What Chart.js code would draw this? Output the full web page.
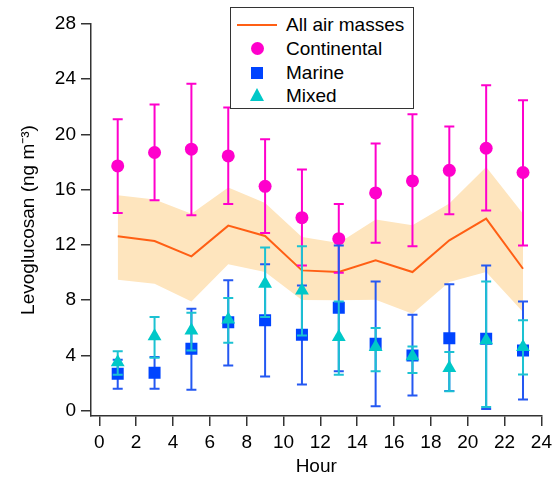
<!DOCTYPE html>
<html>
<head>
<meta charset="utf-8">
<script src="https://cdn.jsdelivr.net/npm/chart.js@4"></script>
<style>
  body { margin: 0; background: #fff; font-family: 'Liberation Sans', Arial, sans-serif; }
  #wrap { position: relative; width: 557px; height: 478px; }
  #legenda { position: absolute; left: 230px; top: 7px; width: 184px; height: 102px; border: 1.5px solid #333; background: #fff; box-sizing: border-box; }
  .polozka { position: absolute; left: 0; height: 24px; line-height: 24px; font-size: 19px; color: #000; width: 100%; }
  .polozka span.txt { position: absolute; left: 55px; }
  .znacka { position: absolute; }
</style>
</head>
<body>
<div id="wrap">
  <canvas id="graf" width="557" height="478"></canvas>
  <div id="legenda"></div>
</div>
<script>
// --- DATA ---
const hodiny = [1, 3, 5, 7, 9, 11, 13, 15, 17, 19, 21, 23];

const vseStred = [12.62, 12.28, 11.17, 13.39, 12.64, 10.15, 10.03, 10.88, 10.03, 12.33, 13.9, 10.27];
const vseHorni = [15.59, 15.28, 14.26, 16.15, 15.03, 12.57, 12.13, 13.83, 13.42, 14.99, 17.64, 14.26];
const vseDolni = [9.48, 9.19, 7.90, 10.59, 10.03, 8.0, 7.98, 8.03, 7.01, 9.31, 10.03, 7.13];

const kontinent = [17.72, 18.69, 18.93, 18.44, 16.24, 13.97, 12.45, 15.76, 16.63, 17.40, 19.0, 17.24];
const kontinentHi = [21.1, 22.17, 23.68, 21.95, 19.65, 17.45, 14.96, 19.34, 21.46, 20.57, 23.57, 22.48];
const kontinentLo = [14.3, 15.23, 14.14, 14.96, 12.86, 10.51, 9.98, 12.16, 11.89, 14.21, 14.48, 11.96];

const more = [2.66, 2.73, 4.47, 6.40, 6.53, 5.49, 7.45, 4.83, 3.99, 5.24, 5.2, 4.35];
const moreHi = [3.67, 3.87, 7.37, 9.43, 10.59, 9.06, 11.96, 9.35, 6.94, 9.14, 10.51, 7.9];
const moreLo = [1.57, 1.57, 1.50, 3.26, 2.47, 1.89, 2.85, 0.3, 1.09, 1.42, 0.1, 0.80];

const smisene = [3.50, 5.37, 5.8, 6.6, 9.19, 8.7, 5.32, 4.6, 3.92, 3.07, 5.08, 4.59];
const smiseneHi = [4.30, 6.77, 7.08, 8.14, 11.8, 11.89, 7.9, 5.97, 4.64, 4.23, 9.35, 6.53];
const smiseneLo = [2.58, 3.82, 4.35, 4.91, 6.77, 5.44, 2.59, 2.85, 2.71, 1.40, 0.25, 2.61];

const xTicky = [0, 2, 4, 6, 8, 10, 12, 14, 16, 18, 20, 22, 24];
const yTicky = [0, 4, 8, 12, 16, 20, 24, 28];

const nazvy = ['All air masses', 'Continental', 'Marine', 'Mixed'];

// --- BARVY ---
const oranzova = '#FF5F14';
const pasmo = '#FEE5BE';
const magenta = '#FF00CC';
const modra = '#0044FF';
const modraChyba = '#2458F2';
const tyrkys = '#00C8C8';
const tyrkysChyba = '#1CC2D2';

const pismo = { family: "'Liberation Sans', Arial, sans-serif", size: 19 };

function body(hodnoty) { return hodiny.map((h, i) => ({ x: h, y: hodnoty[i] })); }

// error bary - kresleni pres skaly grafu
const chybovePlugin = {
    id: 'chyby',
    beforeDatasetDraw(chart, args) {
        const ds = chart.data.datasets[args.index];
        if (!ds.chybaHi) return;
        const sx = chart.scales.x, sy = chart.scales.y, ctx = chart.ctx;
        ctx.save();
        ctx.strokeStyle = ds.chybaBarva;
        ctx.lineWidth = 2;
        ds.data.forEach((p, i) => {
            const px = sx.getPixelForValue(p.x);
            const hore = sy.getPixelForValue(ds.chybaHi[i]);
            const dole = sy.getPixelForValue(ds.chybaLo[i]);
            ctx.beginPath();
            ctx.moveTo(px, hore); ctx.lineTo(px, dole);
            ctx.moveTo(px - 5, hore); ctx.lineTo(px + 5, hore);
            ctx.moveTo(px - 5, dole); ctx.lineTo(px + 5, dole);
            ctx.stroke();
        });
        ctx.restore();
    }
};

function osa(min, max, ticky, titulek) {
    return {
        type: 'linear', min: min, max: max,
        ticks: { font: pismo, color: '#000', padding: 5 },
        afterBuildTicks: s => { s.ticks = ticky.map(v => ({ value: v })); },
        grid: { drawOnChartArea: false, drawTicks: true, tickLength: 10, color: '#333', lineWidth: 1.5 },
        border: { color: '#333', width: 1.5 },
        title: { display: true, text: titulek, font: pismo, color: '#000', padding: { top: 1, bottom: 0 } }
    };
}

const osaX = osa(-0.45, 24, xTicky, 'Hour');
osaX.afterFit = s => { s.height = 62; };
const osaY = osa(-0.4, 28, yTicky, 'Levoglucosan (ng m\u207B\u00B3)');
osaY.title.padding = { top: 17, bottom: 0 };
osaY.afterFit = s => { s.width = 91; };

const graf = new Chart(document.getElementById('graf'), {
    type: 'line',
    data: {
        datasets: [
            { label: 'band hi', data: body(vseHorni), borderWidth: 0, pointRadius: 0, fill: '+1', backgroundColor: pasmo, order: 7 },
            { label: 'band lo', data: body(vseDolni), borderWidth: 0, pointRadius: 0, fill: false, order: 8 },
            { label: nazvy[0], data: body(vseStred), borderColor: oranzova, borderWidth: 2, pointRadius: 0, fill: false, order: 5 },
            { label: nazvy[1], data: body(kontinent), showLine: false, pointStyle: 'circle', pointRadius: 6.5,
              backgroundColor: magenta, borderColor: magenta, borderWidth: 0, chybaHi: kontinentHi, chybaLo: kontinentLo, chybaBarva: magenta, order: 3 },
            { label: nazvy[2], data: body(more), showLine: false, pointStyle: 'rect', pointRadius: 8.5,
              backgroundColor: modra, borderColor: modra, borderWidth: 0, chybaHi: moreHi, chybaLo: moreLo, chybaBarva: modraChyba, order: 2 },
            { label: nazvy[3], data: body(smisene), showLine: false, pointStyle: 'triangle', pointRadius: 8,
              backgroundColor: tyrkys, borderColor: tyrkys, borderWidth: 0, chybaHi: smiseneHi, chybaLo: smiseneLo, chybaBarva: tyrkysChyba, order: 1 }
        ]
    },
    options: {
        responsive: false,
        animation: false,
        devicePixelRatio: 1,
        layout: { padding: { top: 24, right: 14, left: 0, bottom: 0 } },
        plugins: { legend: { display: false }, tooltip: { enabled: false } },
        scales: { x: osaX, y: osaY }
    },
    plugins: [chybovePlugin]
});

// --- LEGENDA (HTML) ---
const legenda = document.getElementById('legenda');
const radkyY = [5, 29, 53, 76];
const znacky = [
    `<div class="znacka" style="left:6px;top:11px;width:40px;height:2px;background:${oranzova}"></div>`,
    `<div class="znacka" style="left:20px;top:5px;width:13px;height:13px;border-radius:50%;background:${magenta}"></div>`,
    `<div class="znacka" style="left:20px;top:6px;width:12px;height:12px;background:${modra}"></div>`,
    `<div class="znacka" style="left:19px;top:4px;width:0;height:0;border-left:7px solid transparent;border-right:7px solid transparent;border-bottom:13px solid ${tyrkys}"></div>`
];
nazvy.forEach((n, i) => {
    legenda.insertAdjacentHTML('beforeend', `<div class="polozka" style="top:${radkyY[i]}px">${znacky[i]}<span class="txt">${n}</span></div>`);
});
</script>
</body>
</html>
